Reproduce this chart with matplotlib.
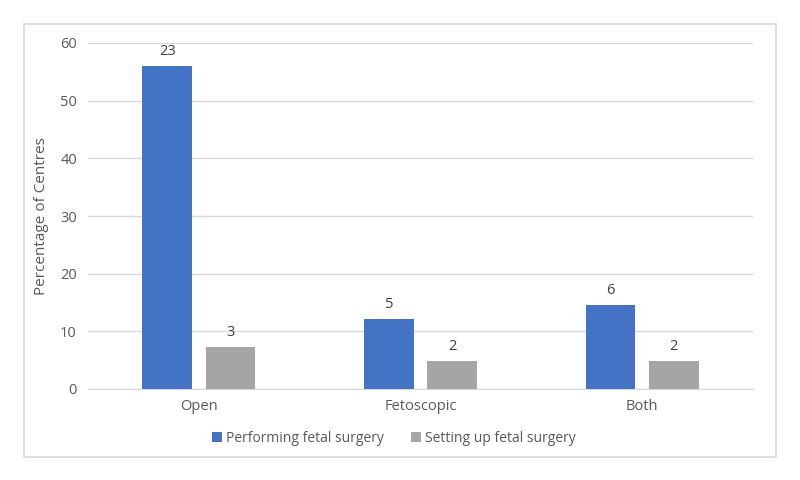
import matplotlib
matplotlib.use("Agg")
import matplotlib.pyplot as plt
from matplotlib.patches import Rectangle
import numpy as np

categories = ["Open", "Fetoscopic", "Both"]
perf_counts = [23, 5, 6]
setup_counts = [3, 2, 2]
total_centres = 41
perf_pct = [c / total_centres * 100 for c in perf_counts]
setup_pct = [c / total_centres * 100 for c in setup_counts]
series_names = ["Performing fetal surgery", "Setting up fetal surgery"]
yticks = [0, 10, 20, 30, 40, 50, 60]

plt.rcParams['font.family'] = ['Open Sans', 'DejaVu Sans']

fig = plt.figure(figsize=(8, 4.8), dpi=100)
fig.patches.append(Rectangle((24/800, 1-457/480), 752/800, 433/480,
                             transform=fig.transFigure, fill=False,
                             edgecolor="#d9d9d9", linewidth=1.2))
ax = fig.add_axes([88/800, 1-389/480, 665/800, 346/480])

x = np.arange(len(categories))
w = 0.225
off = 0.143
b1 = ax.bar(x - off, perf_pct, w, color="#4472c4", label=series_names[0], zorder=3)
b2 = ax.bar(x + off, setup_pct, w, color="#a5a5a5", label=series_names[1], zorder=3)

for bars, counts in ((b1, perf_counts), (b2, setup_counts)):
    for r, c in zip(bars, counts):
        ax.annotate(str(c), (r.get_x() + r.get_width()/2, r.get_height()),
                    xytext=(0, 5), textcoords="offset points",
                    ha="center", va="bottom", fontsize=10.5, color="#404040")

ax.set_xlim(-0.5, 2.5)
ax.set_ylim(0, 60)
ax.set_yticks(yticks)
ax.set_xticks(x)
ax.set_xticklabels(categories)
ax.grid(axis="y", color="#d9d9d9", linewidth=1, zorder=0)
for s in ["top", "right", "left"]:
    ax.spines[s].set_visible(False)
ax.spines["bottom"].set_color("#d9d9d9")
ax.tick_params(axis="both", length=0, colors="#595959", labelsize=10.5)
ax.tick_params(axis="x", pad=7)
ax.tick_params(axis="y", pad=8)
ax.set_ylabel("Percentage of Centres", fontsize=11, color="#595959", labelpad=8)

leg = fig.legend(loc="center", bbox_to_anchor=(394/800, 1-438/480), ncol=2,
                 frameon=False, fontsize=10, handlelength=0.7, handleheight=0.7,
                 handletextpad=0.3, columnspacing=2.0, labelcolor="#595959")

fig.savefig("out.png", dpi=100)
